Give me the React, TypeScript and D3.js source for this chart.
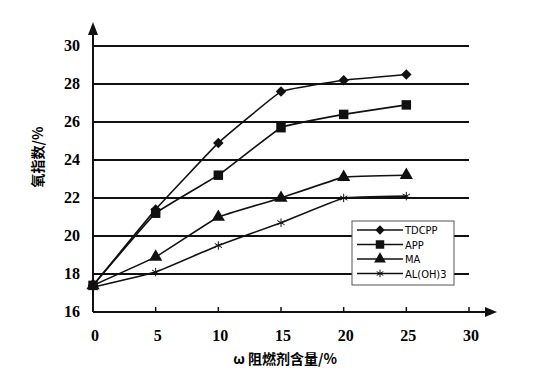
import React, { useEffect, useRef } from 'react'
import * as d3 from 'd3'

const xValues = [0, 5, 10, 15, 20, 25]
const tdcpp = [17.4, 21.4, 24.9, 27.6, 28.2, 28.5]
const app = [17.4, 21.2, 23.2, 25.7, 26.4, 26.9]
const ma = [17.4, 18.9, 21.0, 22.0, 23.1, 23.2]
const aloh = [17.3, 18.1, 19.5, 20.7, 22.0, 22.1]
const seriesNames = ['TDCPP', 'APP', 'MA', 'AL(OH)3']
const xTicks = [0, 5, 10, 15, 20, 25, 30]
const yTicks = [16, 18, 20, 22, 24, 26, 28, 30]

export default function App() {
  const ref = useRef<SVGSVGElement>(null)

  useEffect(() => {
    const svg = d3.select(ref.current)
    svg.selectAll('*').remove()

    const x = d3.scaleLinear().domain([0, 30]).range([93, 469])
    const y = d3.scaleLinear().domain([16, 30]).range([312, 46])

    // gridlines
    svg.append('g')
      .selectAll('line')
      .data(yTicks.slice(1))
      .enter()
      .append('line')
      .attr('x1', x(0))
      .attr('x2', x(30))
      .attr('y1', d => y(d))
      .attr('y2', d => y(d))
      .attr('stroke', '#111')
      .attr('stroke-width', 2)

    // axes
    svg.append('line')
      .attr('x1', x(0)).attr('x2', 490)
      .attr('y1', y(16)).attr('y2', y(16))
      .attr('stroke', '#111').attr('stroke-width', 2)
    svg.append('line')
      .attr('x1', x(0)).attr('x2', x(0))
      .attr('y1', y(16)).attr('y2', 30)
      .attr('stroke', '#111').attr('stroke-width', 2)
    svg.append('path')
      .attr('d', `M497,${y(16)} L485,${y(16) - 5} L485,${y(16) + 5} Z`)
      .attr('fill', '#111')
    svg.append('path')
      .attr('d', `M${x(0)},22 L${x(0) - 5},35 L${x(0) + 5},35 Z`)
      .attr('fill', '#111')

    // x ticks
    svg.append('g')
      .selectAll('line')
      .data(xTicks.slice(1))
      .enter()
      .append('line')
      .attr('x1', d => x(d)).attr('x2', d => x(d))
      .attr('y1', y(16)).attr('y2', y(16) - 5)
      .attr('stroke', '#111').attr('stroke-width', 1.5)

    const font = '"Liberation Serif", "DejaVu Serif", serif'
    svg.append('g')
      .selectAll('text')
      .data(xTicks)
      .enter()
      .append('text')
      .attr('x', d => x(d) + 2)
      .attr('y', 341)
      .attr('text-anchor', 'middle')
      .attr('font-family', font)
      .attr('font-weight', 'bold')
      .attr('font-size', 16)
      .text(d => d)

    svg.append('g')
      .selectAll('text')
      .data(yTicks)
      .enter()
      .append('text')
      .attr('x', 80)
      .attr('y', d => y(d) + 5)
      .attr('text-anchor', 'end')
      .attr('font-family', font)
      .attr('font-weight', 'bold')
      .attr('font-size', 16)
      .text(d => d)

    svg.append('text')
      .attr('x', 285)
      .attr('y', 364)
      .attr('text-anchor', 'middle')
      .attr('font-family', '"Noto Sans CJK SC", sans-serif')
      .attr('font-size', 14)
      .attr('font-weight', 'bold')
      .text('ω 阻燃剂含量/%')

    svg.append('text')
      .attr('transform', 'translate(43,157) rotate(-90)')
      .attr('text-anchor', 'middle')
      .attr('font-family', '"Noto Sans CJK SC", sans-serif')
      .attr('font-size', 14)
      .attr('font-weight', 'bold')
      .text('氧指数/%')

    const allSeries = [tdcpp, app, ma, aloh]
    const symbols = [d3.symbolSquare, d3.symbolSquare, d3.symbolTriangle, d3.symbolAsterisk]
    const sizes = [55, 90, 75, 50]
    const rot = [45, 0, 0, 0]

    const line = d3.line<number>()
      .x((_, i) => x(xValues[i]))
      .y(d => y(d))
      .curve(d3.curveCardinal.tension(0.75))

    allSeries.forEach((s, k) => {
      svg.append('path')
        .datum(s)
        .attr('d', line)
        .attr('fill', 'none')
        .attr('stroke', '#111')
        .attr('stroke-width', 1.6)
      svg.append('g')
        .selectAll('path')
        .data(s)
        .enter()
        .append('path')
        .attr('transform', (d, i) => `translate(${x(xValues[i])},${y(d)}) rotate(${rot[k]})`)
        .attr('d', d3.symbol(symbols[k], sizes[k]))
        .attr('fill', '#111')
        .attr('stroke', '#111')
        .attr('stroke-width', k === 3 ? 1 : 0)
    })

    // legend
    const lg = svg.append('g')
    lg.append('rect')
      .attr('x', 352).attr('y', 221)
      .attr('width', 102).attr('height', 64)
      .attr('fill', '#fff')
      .attr('stroke', '#555')
      .attr('stroke-width', 1)
    seriesNames.forEach((name, k) => {
      const ly = 230 + k * 14.5
      lg.append('line')
        .attr('x1', 357).attr('x2', 403)
        .attr('y1', ly).attr('y2', ly)
        .attr('stroke', '#111').attr('stroke-width', 1.5)
      lg.append('path')
        .attr('transform', `translate(380,${ly}) rotate(${rot[k]})`)
        .attr('d', d3.symbol(symbols[k], sizes[k] * 0.8))
        .attr('fill', '#111')
        .attr('stroke', '#111')
        .attr('stroke-width', k === 3 ? 1 : 0)
      lg.append('text')
        .attr('x', 405)
        .attr('y', ly + 4)
        .attr('font-family', '"Liberation Sans Narrow", "DejaVu Sans Condensed", sans-serif')
        .attr('font-size', 11)
        .text(name)
    })
  }, [])

  return <svg ref={ref} width={535} height={387} style={{ position: 'absolute', left: 0, top: 0, background: '#fff' }} />
}
